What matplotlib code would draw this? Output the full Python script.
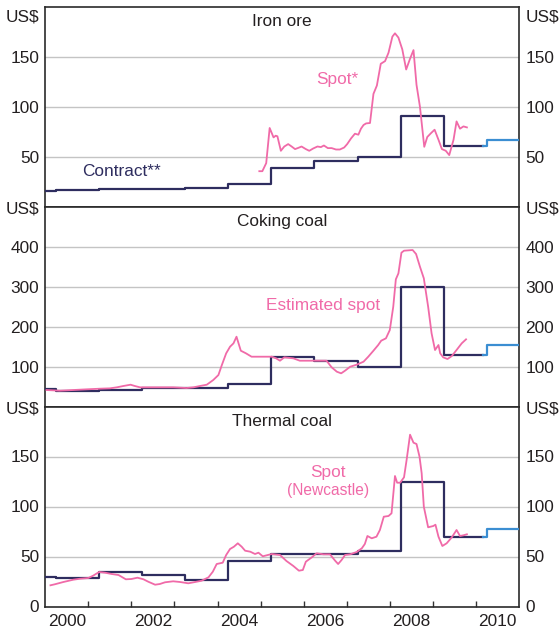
import matplotlib
matplotlib.use("Agg")
import matplotlib.pyplot as plt

plt.rcParams['font.family'] = ['Liberation Sans', 'DejaVu Sans']

# ---------------- data ----------------
years_labels = [2000, 2002, 2004, 2006, 2008, 2010]

iron_contract_x = [2000.0, 2000.25, 2001.25, 2002.25, 2003.25, 2004.25, 2005.25, 2006.25, 2007.25, 2008.25, 2009.25, 2010.17]
iron_contract_y = [16.3, 17.3, 18.0, 18.3, 19.3, 23.0, 38.5, 45.5, 50.0, 90.5, 60.5, 60.5]
iron_forecast_x = [2010.17, 2010.25, 2011.0]
iron_forecast_y = [60.5, 67.0, 67.0]
iron_spot_x = [2004.97, 2005.04, 2005.13, 2005.21, 2005.30, 2005.35, 2005.39, 2005.47, 2005.55, 2005.64,
               2005.72, 2005.80, 2005.88, 2005.95, 2006.05, 2006.13, 2006.22, 2006.32, 2006.40, 2006.47,
               2006.56, 2006.65, 2006.75, 2006.84, 2006.94, 2007.01, 2007.10, 2007.19, 2007.27, 2007.33,
               2007.39, 2007.45, 2007.54, 2007.62, 2007.70, 2007.79, 2007.89, 2007.97, 2008.06, 2008.12,
               2008.20, 2008.29, 2008.38, 2008.47, 2008.55, 2008.62, 2008.70, 2008.80, 2008.87, 2008.96,
               2009.04, 2009.13, 2009.21, 2009.30, 2009.38, 2009.48, 2009.55, 2009.63, 2009.71, 2009.79]
iron_spot_y = [35.6, 35.6, 43.7, 78.8, 69.4, 71.1, 70.5, 56.0, 60.3, 62.7,
               60.3, 57.7, 59.0, 60.3, 57.7, 56.0, 58.3, 60.3, 59.7, 61.3,
               58.7, 58.7, 57.3, 57.3, 59.3, 62.7, 68.4, 73.1, 72.1, 78.1,
               81.8, 83.4, 83.8, 112.9, 121.3, 143.0, 145.7, 154.1, 170.2, 173.5,
               169.2, 157.4, 137.3, 148.1, 156.7, 122.0, 100.0, 60.0, 69.8, 73.8,
               77.1, 67.1, 57.7, 56.0, 51.7, 67.1, 85.4, 78.1, 80.4, 79.4]

coking_contract_x = [2000.0, 2000.25, 2001.25, 2002.25, 2003.25, 2004.25, 2005.25, 2006.25, 2007.25, 2008.25, 2009.25, 2010.17]
coking_contract_y = [43.3, 40.0, 42.0, 47.5, 46.0, 57.5, 125.0, 115.0, 98.3, 299.0, 128.3, 128.3]
coking_forecast_x = [2010.17, 2010.25, 2011.0]
coking_forecast_y = [128.3, 155.0, 155.0]
coking_spot_x = [2000.03, 2000.34, 2000.65, 2000.96, 2001.27, 2001.50, 2001.66, 2001.81, 2001.98, 2002.08,
                 2002.20, 2002.51, 2002.97, 2003.28, 2003.44, 2003.59, 2003.75, 2003.90, 2004.02, 2004.10,
                 2004.20, 2004.29, 2004.37, 2004.44, 2004.54, 2004.66, 2004.79, 2004.99, 2005.26, 2005.36,
                 2005.45, 2005.55, 2005.76, 2005.91, 2006.22, 2006.53, 2006.65, 2006.77, 2006.87, 2006.96,
                 2007.08, 2007.23, 2007.39, 2007.50, 2007.62, 2007.73, 2007.80, 2007.91, 2008.00, 2008.08,
                 2008.14, 2008.20, 2008.27, 2008.33, 2008.53, 2008.61, 2008.70, 2008.79, 2008.89, 2008.97,
                 2009.05, 2009.13, 2009.17, 2009.24, 2009.34, 2009.44, 2009.55, 2009.67, 2009.77]
coking_spot_y = [41.7, 40.0, 41.7, 43.4, 45.0, 45.9, 48.4, 51.7, 55.0, 51.7,
                 48.4, 48.4, 48.4, 46.7, 48.4, 51.7, 55.0, 66.7, 79.2, 104.2,
                 133.4, 150.0, 158.4, 175.0, 140.0, 133.4, 125.0, 125.0, 125.0, 120.9,
                 115.0, 123.4, 120.9, 115.0, 115.0, 115.0, 98.4, 87.5, 83.4, 90.0,
                 100.0, 105.0, 112.5, 125.0, 140.0, 154.2, 165.0, 170.9, 191.7, 250.0,
                 318.4, 333.4, 385.0, 390.0, 391.7, 381.7, 350.0, 320.9, 250.0, 183.4,
                 141.7, 154.2, 133.4, 123.4, 119.2, 126.7, 141.7, 158.4, 168.4]

thermal_contract_x = [2000.0, 2000.25, 2001.25, 2002.25, 2003.25, 2004.25, 2005.25, 2006.25, 2007.25, 2008.25, 2009.25, 2010.17]
thermal_contract_y = [29.8, 28.5, 34.8, 31.8, 26.8, 45.2, 52.5, 52.5, 55.5, 124.8, 69.8, 69.8]
thermal_forecast_x = [2010.17, 2010.25, 2011.0]
thermal_forecast_y = [69.8, 77.2, 77.2]
thermal_spot_x = [2000.12, 2000.22, 2000.42, 2000.65, 2000.81, 2001.00, 2001.11, 2001.25, 2001.39, 2001.54,
                  2001.70, 2001.87, 2002.00, 2002.14, 2002.28, 2002.39, 2002.55, 2002.66, 2002.78, 2002.97,
                  2003.13, 2003.32, 2003.48, 2003.63, 2003.79, 2003.89, 2003.98, 2004.12, 2004.20, 2004.29,
                  2004.38, 2004.47, 2004.56, 2004.64, 2004.76, 2004.87, 2004.95, 2005.05, 2005.14, 2005.26,
                  2005.45, 2005.60, 2005.76, 2005.89, 2005.98, 2006.05, 2006.19, 2006.30, 2006.46, 2006.61,
                  2006.73, 2006.80, 2006.88, 2006.96, 2007.08, 2007.23, 2007.35, 2007.42, 2007.48, 2007.58,
                  2007.69, 2007.77, 2007.86, 2007.97, 2008.04, 2008.12, 2008.17, 2008.24, 2008.33, 2008.39,
                  2008.47, 2008.55, 2008.62, 2008.69, 2008.74, 2008.79, 2008.89, 2009.01, 2009.06, 2009.13,
                  2009.22, 2009.32, 2009.44, 2009.55, 2009.63, 2009.71, 2009.79]
thermal_spot_y = [21.2, 22.2, 24.5, 26.8, 27.8, 28.5, 30.8, 34.5, 33.8, 32.5,
                  31.5, 27.2, 27.5, 28.8, 27.2, 24.8, 21.8, 22.5, 24.2, 25.2,
                  24.5, 23.2, 24.5, 25.8, 29.2, 34.8, 42.5, 43.8, 51.5, 57.5,
                  59.8, 63.2, 59.8, 55.8, 54.8, 52.5, 53.8, 50.2, 51.2, 52.5,
                  51.5, 45.5, 40.5, 35.8, 36.5, 44.8, 49.2, 53.2, 52.2, 52.2,
                  45.8, 42.5, 46.5, 51.5, 52.2, 54.5, 58.2, 62.5, 70.5, 68.2,
                  69.8, 76.5, 89.8, 90.5, 93.2, 130.5, 123.8, 123.8, 129.2, 146.5,
                  171.8, 163.8, 162.5, 149.8, 133.2, 99.8, 79.2, 80.5, 81.8, 69.8,
                  60.5, 63.2, 69.2, 76.5, 70.5, 71.2, 72.2]

# ---------------- style ----------------
NAVY = '#2e2d5f'
PINK = '#f06aa8'
BLUE = '#3b8ed2'
GRID = '#c4c4c4'
TXT = '#231f20'
FS = 12.4

W, H = 559, 630
fig = plt.figure(figsize=(W / 100, H / 100), dpi=100)

left = 45.3 / W
width = (519.0 - 45.3) / W
panel_h = 200.0 / H
bottoms = [(H - 206.8) / H, (H - 406.7) / H, (H - 606.5) / H]

panels = [
    dict(title='Iron ore', ylim=(0, 200), grid=[50, 100, 150], ticks=[50, 100, 150], usd=191.5,
         cx=iron_contract_x, cy=iron_contract_y, fx=iron_forecast_x, fy=iron_forecast_y,
         sx=iron_spot_x, sy=iron_spot_y),
    dict(title='Coking coal', ylim=(0, 500), grid=[100, 200, 300, 400], ticks=[100, 200, 300, 400], usd=497,
         cx=coking_contract_x, cy=coking_contract_y, fx=coking_forecast_x, fy=coking_forecast_y,
         sx=coking_spot_x, sy=coking_spot_y),
    dict(title='Thermal coal', ylim=(0, 200), grid=[50, 100, 150], ticks=[0, 50, 100, 150], usd=199,
         cx=thermal_contract_x, cy=thermal_contract_y, fx=thermal_forecast_x, fy=thermal_forecast_y,
         sx=thermal_spot_x, sy=thermal_spot_y),
]

axes = []
for i, p in enumerate(panels):
    ax = fig.add_axes([left, bottoms[i], width, panel_h])
    axes.append(ax)
    ax.set_xlim(2000, 2011)
    ax.set_ylim(*p['ylim'])
    for g in p['grid']:
        ax.axhline(g, color=GRID, lw=1.0, zorder=1)
    ax.step(p['cx'], p['cy'], where='post', color=NAVY, lw=1.6, zorder=3)
    ax.step(p['fx'], p['fy'], where='post', color=BLUE, lw=1.6, zorder=3)
    ax.plot(p['sx'], p['sy'], color=PINK, lw=1.3, zorder=4)

    yt = p['ticks'] + [p['usd']]
    ax.set_yticks(yt)
    ax.set_yticklabels([str(t) for t in p['ticks']] + ['US$'])
    ax.tick_params(axis='y', length=0, labelsize=FS, labelcolor=TXT,
                   left=False, right=False, labelleft=True, labelright=True, pad=4.5)
    for s in ax.spines.values():
        s.set_color('#2a2a2a')
        s.set_linewidth(1.2)
    ax.text(0.5, 0.925, p['title'], transform=ax.transAxes, ha='center', va='center',
            fontsize=FS, color=TXT)

    if i < 2:
        ax.set_xticks([])
    else:
        ax.set_xticks(list(range(2001, 2011)))
        ax.set_xticklabels([])
        ax.set_xticks([y + 0.5 for y in years_labels], minor=True)
        ax.set_xticklabels([str(y) for y in years_labels], minor=True)
        ax.tick_params(axis='x', which='major', direction='in', length=4.5, width=1.0,
                       color='#333333')
        ax.tick_params(axis='x', which='minor', length=0, labelsize=FS, labelcolor=TXT, pad=5.5)

# series labels
axes[0].text(2001.76, 35, 'Contract**', color=NAVY, fontsize=FS, ha='center', va='center')
axes[0].text(2006.77, 127, 'Spot*', color=PINK, fontsize=FS, ha='center', va='center')
axes[1].text(2006.44, 252, 'Estimated spot', color=PINK, fontsize=FS, ha='center', va='center')
axes[2].text(2006.57, 134, 'Spot', color=PINK, fontsize=FS, ha='center', va='center')
axes[2].text(2006.57, 115.5, '(Newcastle)', color=PINK, fontsize=11.2, ha='center', va='center')

fig.savefig('out.png', dpi=100)
